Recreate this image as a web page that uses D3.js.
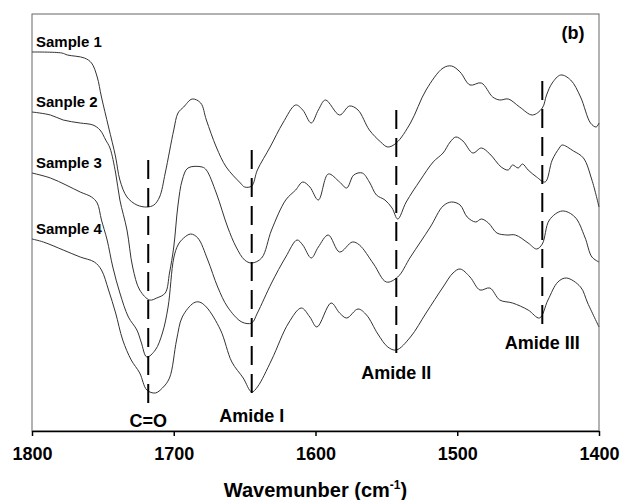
<!DOCTYPE html>
<head>
    <meta charset="utf-8">
    <title>FTIR spectra</title>
    <script type="text/javascript" src="https://d3js.org/d3.v7.min.js"></script>
    <style>
        body { margin: 0; background: #fff; }
        text { font-family: "Liberation Sans", Arial, sans-serif; font-weight: bold; fill: #000; }
        .spectrum { fill: none; stroke: #333; stroke-width: 1; }
        .marker { stroke: #000; stroke-width: 2; stroke-dasharray: 19,9; }
        .axis path, .axis line { stroke: #000; stroke-width: 1.5; }
    </style>
</head>
<body>
<div id="container"></div>
<script>
    //-----------------------------DATA------------------------------//
    // [wavenumber (cm-1), transmittance (a.u., curves offset)]
    const sample1 = [[1800,379],[1779,378],[1775,376],[1763,373],[1758,368],[1754,354],[1751,334],[1746,304],
        [1741,274],[1738,251],[1733,234],[1726,226],[1719,224],[1714,226],[1710,234],[1706,258],[1700,301],
        [1697,318],[1693,324],[1687,332],[1681,328],[1677,311],[1670,284],[1663,264],[1653,248],[1650,244],
        [1645,245],[1641,261],[1632,284],[1623,308],[1614,326],[1609,321],[1603,308],[1598,321],[1593,331],
        [1583,316],[1576,325],[1570,321],[1562,301],[1554,289],[1549,284],[1543,288],[1533,308],[1522,341],
        [1510,363],[1504,365],[1498,359],[1491,346],[1483,348],[1475,334],[1470,331],[1464,332],[1456,324],
        [1447,316],[1440,323],[1437,336],[1433,348],[1427,356],[1420,351],[1413,334],[1406,308],[1402,304],
        [1400,308]];

    const sample2 = [[1800,319],[1787,316],[1778,311],[1766,308],[1757,306],[1752,301],[1748,291],[1745,283],
        [1741,258],[1738,231],[1733,201],[1729,164],[1724,141],[1717,131],[1712,133],[1706,138],[1703,158],
        [1700,184],[1697,226],[1694,251],[1690,263],[1680,264],[1677,261],[1670,238],[1662,204],[1656,184],
        [1650,171],[1645,168],[1638,173],[1631,201],[1621,231],[1614,241],[1609,249],[1604,244],[1598,231],
        [1591,257],[1583,249],[1578,243],[1573,256],[1567,258],[1562,249],[1557,236],[1551,231],[1546,223],
        [1542,212],[1536,229],[1526,251],[1517,269],[1510,278],[1505,289],[1501,294],[1496,290],[1489,278],
        [1483,283],[1477,277],[1469,264],[1464,261],[1461,266],[1457,263],[1454,267],[1450,261],[1444,254],
        [1438,249],[1433,271],[1428,283],[1426,286],[1418,280],[1411,273],[1405,251],[1400,224]];

    const sample3 = [[1800,258],[1787,253],[1776,246],[1766,239],[1758,234],[1754,228],[1751,211],[1747,191],
        [1743,164],[1738,138],[1732,114],[1726,101],[1723,89],[1719,74],[1713,81],[1708,98],[1704,124],
        [1700,173],[1697,186],[1693,193],[1688,197],[1683,193],[1676,171],[1669,144],[1662,124],[1652,109],
        [1645,108],[1641,118],[1631,148],[1621,174],[1613,191],[1609,186],[1603,173],[1598,184],[1591,196],
        [1583,179],[1574,189],[1569,186],[1559,167],[1550,149],[1542,154],[1533,174],[1519,204],[1510,225],
        [1504,229],[1498,226],[1493,214],[1487,209],[1483,212],[1478,208],[1472,198],[1465,196],[1459,196],
        [1450,188],[1444,182],[1440,187],[1435,211],[1426,220],[1417,214],[1410,194],[1405,174],[1400,169]];

    const sample4 = [[1800,192],[1792,189],[1778,181],[1766,174],[1756,169],[1751,161],[1746,141],[1741,118],
        [1736,91],[1730,71],[1724,58],[1719,41],[1713,38],[1708,43],[1703,53],[1698,91],[1694,114],[1686,128],
        [1682,129],[1677,124],[1667,101],[1659,69],[1651,53],[1645,39],[1641,44],[1631,71],[1619,108],
        [1610,123],[1604,114],[1599,104],[1589,128],[1583,118],[1578,113],[1570,122],[1564,116],[1556,97],
        [1549,84],[1543,81],[1533,94],[1522,118],[1510,144],[1503,158],[1498,162],[1491,154],[1484,141],
        [1477,143],[1470,131],[1461,128],[1450,121],[1442,113],[1436,131],[1429,149],[1423,153],[1413,144],
        [1408,128],[1400,104]];

    const sampleNames = ["Sample 1", "Sanple 2", "Sample 3", "Sample 4"];
    const xTicks = [1800, 1700, 1600, 1500, 1400];

    // band markers: wavenumber, dashed line extent, label level
    const bandNames = ["C=O", "Amide I", "Amide II", "Amide III"];
    const bandWn = [1718, 1645, 1543, 1440];
    const bandTop = [271, 281, 321, 350];
    const bandBottom = [21, 34, 73, 101];
    const bandLabel = [4, 9, 52, 82];

    //-----------------------------SVG-------------------------------//
    const width = 622, height = 500;
    const margin = {top: 14, right: 23, bottom: 69, left: 32};

    const svg = d3.select("div#container").append("svg")
        .attr("width", width)
        .attr("height", height);

    const xScale = d3.scaleLinear().domain([1800, 1400]).range([margin.left, width - margin.right]);
    const yScale = d3.scaleLinear().domain([0, 417]).range([height - margin.bottom, margin.top]);

    // frame
    svg.append("rect")
        .attr("x", margin.left)
        .attr("y", margin.top)
        .attr("width", width - margin.left - margin.right)
        .attr("height", height - margin.top - margin.bottom)
        .attr("fill", "none")
        .attr("stroke", "#666")
        .attr("stroke-width", 1);

    //----------------------------LINES------------------------------//
    const line = d3.line()
        .x(d => xScale(d[0]))
        .y(d => yScale(d[1]))
        .curve(d3.curveCatmullRom.alpha(0.5));

    const samples = [sample1, sample2, sample3, sample4];

    svg.selectAll(".spectrum")
        .data(samples)
        .enter()
        .append("path")
        .attr("class", "spectrum")
        .attr("d", d => line(d));

    svg.selectAll(".sample-label")
        .data(samples)
        .enter()
        .append("text")
        .attr("class", "sample-label")
        .attr("x", margin.left + 4)
        .attr("y", d => yScale(d[0][1]) - 5)
        .style("font-size", "15px")
        .text((d, i) => sampleNames[i]);

    //---------------------------MARKERS-----------------------------//
    const bands = svg.selectAll(".band")
        .data(bandNames)
        .enter()
        .append("g")
        .attr("class", "band");

    bands.append("line")
        .attr("class", "marker")
        .attr("x1", (d, i) => xScale(bandWn[i]))
        .attr("x2", (d, i) => xScale(bandWn[i]))
        .attr("y1", (d, i) => yScale(bandTop[i]))
        .attr("y2", (d, i) => yScale(bandBottom[i]));

    bands.append("text")
        .attr("x", (d, i) => xScale(bandWn[i]))
        .attr("y", (d, i) => yScale(bandLabel[i]))
        .attr("text-anchor", "middle")
        .style("font-size", "18px")
        .text(d => d);

    //-----------------------------AXES------------------------------//
    const xaxis = d3.axisBottom(xScale)
        .tickValues(xTicks)
        .tickSize(5)
        .tickSizeOuter(0)
        .tickPadding(11)
        .tickFormat(d3.format("d"));

    svg.append("g")
        .attr("class", "axis")
        .attr("transform", `translate(0, ${height - margin.bottom})`)
        .call(xaxis)
        .selectAll("text")
        .style("font-size", "18px");

    const title = svg.append("text")
        .attr("x", (margin.left + width - margin.right) / 2)
        .attr("y", 497)
        .attr("text-anchor", "middle")
        .style("font-size", "20px");
    title.append("tspan").text("Wavemunber (cm");
    title.append("tspan").attr("dy", -8).style("font-size", "12px").text("-1");
    title.append("tspan").attr("dy", 8).text(")");

    svg.append("text")
        .attr("x", 573)
        .attr("y", 39)
        .attr("text-anchor", "middle")
        .style("font-size", "18px")
        .text("(b)");
</script>
</body>
